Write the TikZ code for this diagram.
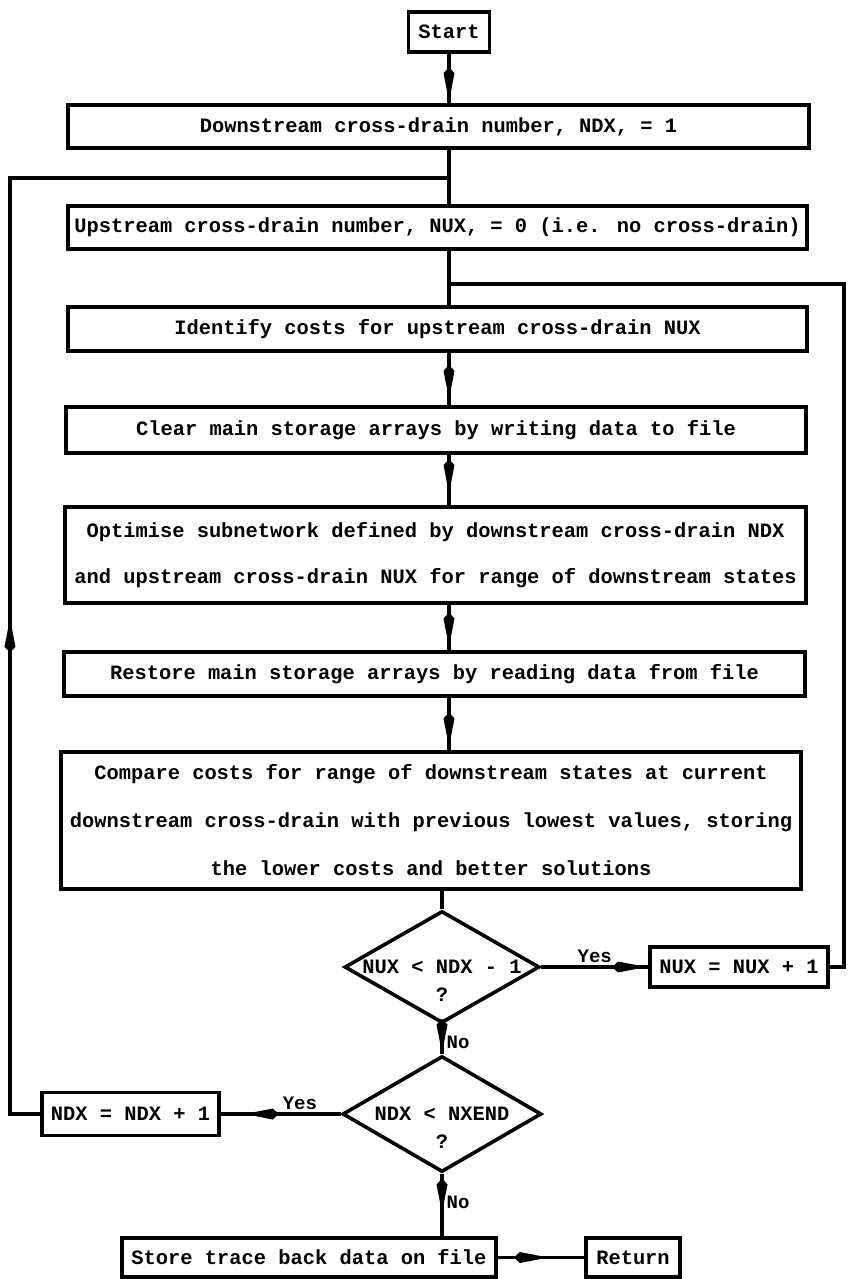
\documentclass[tikz,border=0pt]{standalone}
\usepackage{fontspec}
\setmainfont{Liberation Mono}
\usetikzlibrary{arrows.meta,shapes.geometric,decorations.markings}

\tikzset{
  box/.style={draw, line width=3.6pt, inner sep=0pt, align=center,
    font=\bfseries\fontsize{20.4}{46}\selectfont},
  decision/.style={diamond, draw, line width=3.6pt, inner sep=0pt,
    font=\bfseries\fontsize{20.4}{28}\selectfont},
  link/.style={line width=3.2pt},
  flow/.style={link, postaction={decorate}, decoration={markings,
    mark=at position #1 with {\arrow{Kite[length=34pt,width=11pt,inset=6pt]}}}},
  lbl/.style={font=\bfseries\fontsize{19}{22}\selectfont, inner sep=3pt},
}
% question text: first line on the centre, "?" below it
\newcommand{\ask}[1]{\smash{\makebox[0pt]{\raisebox{-6pt}{\begin{tabular}[t]{@{}c@{}}#1\\?\end{tabular}}}}}

\begin{document}
\begin{tikzpicture}[x=1pt, y=-1pt]
\useasboundingbox (0,0) rectangle (847,1279);
% main column
\node[box, minimum width=81pt, minimum height=40pt] (start) at (449,32) {Start};
\node[box, minimum width=741pt, minimum height=43pt] (down) at (438.5,126.5) {Downstream cross-drain number, NDX, = 1};
\node[box, minimum width=739pt, minimum height=43pt] (up) at (437.5,227.5) {Upstream cross-drain number, NUX, = 0 (i.e. no cross-drain)};
\node[box, minimum width=739pt, minimum height=44pt] (ident) at (437.5,329) {Identify costs for upstream cross-drain NUX};
\node[box, minimum width=740pt, minimum height=46pt] (clear) at (436,430) {Clear main storage arrays by writing data to file};
\node[box, minimum width=741pt, minimum height=96pt] (optim) at (435.5,555) {Optimise subnetwork defined by downstream cross-drain NDX\\and upstream cross-drain NUX for range of downstream states};
\node[box, minimum width=741pt, minimum height=44pt] (restore) at (434.5,674) {Restore main storage arrays by reading data from file};
\node[box, minimum width=740pt, minimum height=137pt,
  font=\bfseries\fontsize{20.4}{48}\selectfont] (cmp) at (431,820.5) {Compare costs for range of downstream states at current\\downstream cross-drain with previous lowest values, storing\\the lower costs and better solutions};
% tests
\node[decision, minimum width=195pt, minimum height=112pt] (d1) at (442,967) {\ask{NUX < NDX - 1}};
\node[decision, minimum width=199pt, minimum height=116pt] (d2) at (442,1114) {\ask{NDX < NXEND}};
\node[box, minimum width=178pt, minimum height=40pt] (nux) at (739,967) {NUX = NUX + 1};
\node[box, minimum width=177pt, minimum height=43pt] (ndx) at (130.5,1114) {NDX = NDX + 1};
\node[box, minimum width=374pt, minimum height=39pt] (store) at (309,1257.5) {Store trace back data on file};
\node[box, minimum width=94pt, minimum height=39pt] (ret) at (633,1257.5) {Return};
% loop corners
\coordinate (lt) at (10,178);
\coordinate (rt) at (844,284);

% connectors
\draw[flow=0.96] (start) -- (start |- down.north);
\draw[link] (down.south -| start) -- (up.north -| start);
\draw[link] (up.south -| start) -- (ident.north -| start);
\draw[flow=0.88] (ident.south -| start) -- (clear.north -| start);
\draw[flow=0.76] (clear.south -| start) -- (optim.north -| start);
\draw[flow=0.92] (optim.south -| start) -- (restore.north -| start);
\draw[flow=0.93] (restore.south -| start) -- (cmp.north -| start);
\draw[link] (cmp.south -| d1) -- (d1.north);
\draw[flow=0.98] (d1) -- node[lbl, above, pos=0.5] {Yes} (nux);
\draw[flow=0.95] (d1) -- node[lbl, right, pos=0.6] {No} (d2);
\draw[flow=0.62] (d2.south) -- node[lbl, right, pos=0.45] {No} (d2.south |- store.north);
\draw[flow=0.8] (d2) -- node[lbl, above, pos=0.34] {Yes} (ndx);
\draw[flow=0.58] (store) -- (ret);
% back to the top of the loops
\draw[flow=0.374] (ndx.west) -- (ndx.west -| lt) -- (lt) -- (lt -| start);
\draw[link] (nux.east) -- (nux.east -| rt) -- (rt) -- (rt -| start);
\end{tikzpicture}
\end{document}
